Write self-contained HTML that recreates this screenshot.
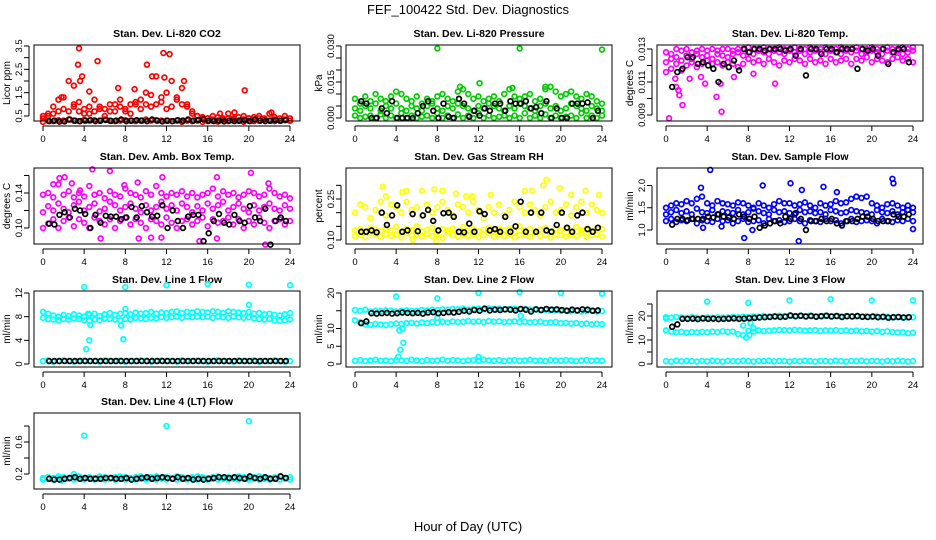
<!DOCTYPE html>
<html><head><meta charset="utf-8"><style>
body{margin:0;background:#fff}
svg{display:block;font-family:"Liberation Sans",sans-serif}
</style></head><body>
<svg id="chart" width="936" height="540" viewBox="0 0 936 540">
<text x="468" y="14" text-anchor="middle" font-size="13">FEF_100422  Std. Dev. Diagnostics</text>
<text x="468" y="531" text-anchor="middle" font-size="13">Hour of Day (UTC)</text>
</svg>
<script>
// ---- data ----
const hoursLabels = ["0","4","8","12","16","20","24"];
const hourTicks = [0,4,8,12,16,20,24];
const colorHours = Array.from({length:49},(_,i)=>i*0.5);
const blackHours = Array.from({length:47},(_,i)=>0.6+i*0.5);

const co2Lo = [0.25,0.3,0.28,0.32,0.3,0.35,0.3,0.28,0.33,0.3,0.32,0.3,0.35,0.3,0.28,0.3,0.32,0.3,0.28,0.3,0.35,0.3,0.32,0.3,0.3,0.28,0.3,0.25,0.3,0.28,0.3,0.25,0.28,0.3,0.26,0.3,0.28,0.3,0.3,0.25,0.3,0.28,0.3,0.35,0.3,0.28,0.3,0.32,0.3];
const co2Mid = [0.4,0.5,0.6,0.7,0.8,0.7,0.9,1.1,0.8,0.6,0.7,0.9,0.8,1.0,0.7,0.9,0.8,1.0,1.1,1.2,1.0,0.9,1.0,1.3,0.8,0.9,1.2,1.0,0.9,0.6,0.5,0.4,0.4,0.35,0.3,0.35,0.4,0.35,0.3,0.35,0.4,0.35,0.4,0.35,0.3,0.35,0.3,0.35,0.3];
const co2Hi = [0.5,0.6,0.9,1.2,1.3,2.0,1.0,0.7,0.6,0.9,1.2,0.8,0.5,0.7,1.0,1.2,0.7,0.6,1.0,0.8,1.5,1.4,2.2,1.1,1.5,2.0,1.3,1.7,1.0,0.7,0.5,0.45,0.4,0.5,0.45,0.4,0.6,0.4,0.45,0.5,0.4,0.45,0.5,0.4,0.6,0.45,0.4,0.5,0.4];
const co2OutX = [3.5,3.4,5.3,3.6,3.8,10.1,11.7,12.3,10.6,11.8,13.7,19.6,1.8,7.3,8.9,4.5,17.2,18.6,22.2,3.0];
const co2OutY = [3.4,2.7,2.85,2.0,2.2,2.7,3.2,3.15,2.2,2.15,2.0,1.6,1.3,1.7,1.65,1.55,0.6,0.65,0.65,1.8];
const co2Black = [0.28,0.3,0.26,0.27,0.35,0.3,0.28,0.3,0.32,0.28,0.3,0.33,0.29,0.3,0.35,0.28,0.3,0.32,0.3,0.28,0.35,0.3,0.27,0.3,0.28,0.32,0.3,0.35,0.3,0.33,0.35,0.3,0.28,0.3,0.27,0.3,0.28,0.3,0.32,0.28,0.35,0.3,0.28,0.3,0.32,0.3,0.33];

const presLo = [0.001,0,0.0005,0.001,0,0.0015,0,0.001,0,0.002,0,0.001,0,0.0005,0.001,0,0.002,0,0.001,0,0.0015,0,0.001,0,0.002,0,0.001,0,0.0005,0.001,0,0.001,0,0.002,0,0.001,0,0.0015,0,0.001,0,0.0005,0.001,0,0.002,0,0.001,0,0.001];
const presMid = [0.004,0.003,0.005,0.004,0.006,0.003,0.005,0.004,0.006,0.004,0.003,0.005,0.004,0.003,0.005,0.006,0.004,0.003,0.005,0.004,0.006,0.005,0.004,0.003,0.005,0.004,0.006,0.005,0.004,0.003,0.005,0.004,0.006,0.005,0.004,0.003,0.005,0.006,0.004,0.005,0.003,0.004,0.006,0.005,0.004,0.003,0.005,0.004,0.003];
const presHi = [0.008,0.006,0.009,0.007,0.01,0.008,0.007,0.009,0.011,0.01,0.008,0.007,0.009,0.006,0.008,0.007,0.009,0.01,0.008,0.007,0.011,0.012,0.01,0.008,0.009,0.007,0.008,0.009,0.007,0.01,0.012,0.009,0.008,0.009,0.01,0.007,0.008,0.012,0.013,0.011,0.009,0.01,0.011,0.009,0.008,0.01,0.009,0.007,0.006];
const presOutX = [8,16,24,12.1,10.2,15.3,18.5];
const presOutY = [0.029,0.029,0.0285,0.0145,0.013,0.0125,0.013];
const presBlack = [0.007,0.006,0,0,0.004,0.002,0.007,0,0,0,0,0.002,0.005,0.007,0.003,0,0.006,0.0005,0,0.008,0.006,0.0005,0.003,0.001,0.004,0.003,0.006,0.006,0.003,0.007,0.006,0.006,0.007,0.004,0.0045,0.002,0.007,0,0.004,0,0,0.006,0.006,0.006,0.0065,0,0.003];

const ltLo = [0.0116,0.0118,0.0121,0.0117,0.012,0.0122,0.0119,0.0121,0.0123,0.0121,0.0122,0.012,0.0122,0.0121,0.0119,0.0121,0.0124,0.0122,0.0123,0.0121,0.0124,0.0122,0.012,0.0123,0.0122,0.0124,0.0123,0.0121,0.0124,0.0122,0.0123,0.0121,0.0124,0.0122,0.0123,0.0124,0.0121,0.0124,0.0123,0.0125,0.0122,0.0124,0.0123,0.0122,0.0124,0.0125,0.0123,0.0124,0.0122];
const ltMid = [0.0122,0.0124,0.0125,0.0123,0.0126,0.0124,0.0127,0.0125,0.0126,0.0124,0.0127,0.0126,0.0125,0.0127,0.0128,0.0126,0.0128,0.0127,0.0129,0.0128,0.0127,0.0129,0.0128,0.0127,0.0129,0.0128,0.0129,0.0127,0.0128,0.0129,0.0128,0.0127,0.0129,0.0128,0.0127,0.0129,0.0128,0.0129,0.0127,0.0128,0.0129,0.0128,0.0127,0.0129,0.0128,0.0129,0.0127,0.0128,0.0129];
const ltHi = [0.0128,0.0127,0.013,0.0129,0.013,0.0128,0.0129,0.013,0.0129,0.013,0.0129,0.013,0.013,0.0129,0.013,0.013,0.0131,0.013,0.013,0.0131,0.013,0.013,0.0131,0.013,0.013,0.0131,0.013,0.013,0.0131,0.013,0.013,0.0131,0.013,0.013,0.0131,0.013,0.013,0.0131,0.013,0.013,0.0131,0.013,0.013,0.0131,0.013,0.013,0.0131,0.013,0.0131];
const ltOutX = [0.3,1.2,1.0,1.6,1.3,2.3,3.4,3.8,4.9,5.3,5.4,6.6,10.6,8.5,0.9];
const ltOutY = [0.0088,0.0105,0.0107,0.0096,0.0102,0.0112,0.0113,0.0109,0.0101,0.0109,0.0092,0.0113,0.0109,0.0115,0.0112];
const ltBlack = [0.0107,0.0116,0.0118,0.0125,0.0125,0.0121,0.0122,0.012,0.0118,0.011,0.0121,0.0119,0.0123,0.0117,0.013,0.0128,0.013,0.013,0.0129,0.013,0.013,0.013,0.0129,0.013,0.0126,0.013,0.0114,0.013,0.013,0.0127,0.013,0.013,0.0128,0.013,0.013,0.013,0.0118,0.013,0.0129,0.013,0.0126,0.013,0.0121,0.0128,0.013,0.013,0.0122];

const abLo = [0.1,0.105,0.11,0.1,0.108,0.112,0.102,0.11,0.106,0.1,0.112,0.108,0.104,0.11,0.1,0.108,0.112,0.104,0.11,0.106,0.1,0.11,0.108,0.104,0.112,0.106,0.1,0.108,0.11,0.104,0.108,0.112,0.102,0.11,0.106,0.108,0.112,0.104,0.11,0.1,0.108,0.104,0.112,0.106,0.1,0.108,0.11,0.104,0.108];
const abMid = [0.118,0.125,0.12,0.128,0.122,0.118,0.126,0.13,0.12,0.124,0.128,0.119,0.122,0.13,0.126,0.12,0.124,0.128,0.122,0.118,0.126,0.12,0.124,0.13,0.122,0.126,0.12,0.128,0.124,0.118,0.125,0.12,0.128,0.122,0.126,0.13,0.12,0.124,0.128,0.122,0.118,0.126,0.12,0.124,0.128,0.122,0.12,0.126,0.122];
const abHi = [0.138,0.14,0.135,0.15,0.138,0.142,0.135,0.14,0.136,0.148,0.138,0.14,0.134,0.142,0.138,0.136,0.145,0.14,0.138,0.135,0.142,0.138,0.148,0.14,0.136,0.14,0.138,0.142,0.136,0.14,0.135,0.138,0.14,0.145,0.136,0.142,0.138,0.14,0.135,0.138,0.142,0.14,0.136,0.138,0.145,0.14,0.136,0.138,0.134];
const abOutX = [1.6,2.1,4.8,6.5,9.2,11.6,16.9,20.2,21.9,1.0,2.8,3.6,7.9,21.6,15.2,5.6,9.3,10.5,11.5,16.9];
const abOutY = [0.157,0.158,0.167,0.165,0.152,0.158,0.158,0.163,0.151,0.15,0.151,0.143,0.149,0.081,0.085,0.088,0.088,0.089,0.089,0.088];
const abBlack = [0.105,0.104,0.115,0.118,0.112,0.122,0.12,0.116,0.1,0.115,0.106,0.114,0.113,0.113,0.11,0.112,0.124,0.112,0.125,0.118,0.113,0.114,0.126,0.1,0.12,0.108,0.1,0.113,0.115,0.115,0.085,0.094,0.108,0.116,0.106,0.104,0.115,0.108,0.106,0.125,0.112,0.108,0.122,0.081,0.108,0.112,0.108];

const rhLo = [0.115,0.12,0.11,0.125,0.118,0.112,0.122,0.115,0.12,0.11,0.125,0.118,0.12,0.112,0.122,0.115,0.12,0.108,0.125,0.118,0.112,0.12,0.115,0.122,0.11,0.118,0.125,0.112,0.12,0.115,0.122,0.11,0.118,0.12,0.112,0.125,0.115,0.12,0.11,0.122,0.118,0.112,0.12,0.115,0.125,0.11,0.118,0.12,0.112];
const rhMid = [0.135,0.14,0.13,0.145,0.138,0.132,0.142,0.136,0.148,0.13,0.14,0.135,0.15,0.132,0.138,0.145,0.13,0.14,0.136,0.142,0.13,0.148,0.135,0.14,0.132,0.138,0.145,0.13,0.14,0.136,0.142,0.13,0.15,0.135,0.14,0.132,0.138,0.145,0.13,0.14,0.136,0.142,0.13,0.148,0.135,0.14,0.132,0.138,0.14];
const rhHi = [0.2,0.23,0.22,0.18,0.21,0.24,0.19,0.23,0.22,0.2,0.24,0.21,0.22,0.19,0.23,0.2,0.22,0.24,0.21,0.19,0.23,0.22,0.2,0.24,0.21,0.18,0.22,0.2,0.23,0.19,0.21,0.24,0.22,0.2,0.23,0.21,0.19,0.22,0.24,0.2,0.21,0.23,0.19,0.22,0.24,0.2,0.23,0.21,0.2];
const rhOutX = [2.7,7.7,18.6,18.3,19.9,4.6,5.0,6.5,8.5,9.8,13.2,16.5,17.2,21.0,22.4,23.7,3.0,10.8,11.4,5.6,7.9];
const rhOutY = [0.295,0.285,0.32,0.3,0.29,0.275,0.28,0.28,0.28,0.27,0.265,0.28,0.28,0.265,0.28,0.265,0.26,0.26,0.26,0.1,0.095];
const rhBlack = [0.13,0.13,0.135,0.128,0.2,0.155,0.19,0.227,0.13,0.135,0.195,0.132,0.19,0.21,0.17,0.135,0.198,0.2,0.185,0.13,0.128,0.16,0.13,0.205,0.195,0.135,0.14,0.13,0.185,0.13,0.15,0.24,0.13,0.2,0.13,0.2,0.135,0.13,0.155,0.2,0.145,0.13,0.19,0.2,0.14,0.13,0.145];

const sfLo = [1.2,1.25,1.18,1.22,1.2,1.25,1.15,1.22,1.2,1.18,1.25,1.2,1.22,1.15,1.2,1.25,1.18,1.2,1.22,1.15,1.25,1.2,1.22,1.18,1.2,1.25,1.2,1.15,1.22,1.2,1.18,1.25,1.2,1.22,1.15,1.2,1.25,1.18,1.2,1.22,1.2,1.15,1.25,1.2,1.18,1.22,1.2,1.25,1.2];
const sfMid = [1.35,1.4,1.45,1.38,1.42,1.35,1.48,1.4,1.38,1.45,1.35,1.42,1.4,1.38,1.45,1.35,1.4,1.48,1.42,1.38,1.35,1.45,1.4,1.42,1.38,1.35,1.45,1.4,1.42,1.38,1.4,1.35,1.45,1.42,1.38,1.4,1.45,1.42,1.4,1.38,1.35,1.45,1.4,1.38,1.42,1.35,1.4,1.45,1.4];
const sfHi = [1.5,1.55,1.6,1.58,1.65,1.6,1.7,1.75,1.6,1.55,1.65,1.6,1.58,1.55,1.62,1.6,1.55,1.5,1.6,1.55,1.5,1.58,1.65,1.6,1.6,1.55,1.58,1.62,1.55,1.5,1.6,1.55,1.58,1.65,1.6,1.62,1.7,1.75,1.72,1.75,1.6,1.55,1.5,1.58,1.6,1.55,1.5,1.55,1.5];
const sfOutX = [4.3,3.4,9.4,12.1,13.2,15.3,16.6,22.0,22.1,7.6,12.9,24.0,3.6,8.4,5.4];
const sfOutY = [2.35,1.95,2.0,2.05,1.9,1.97,1.85,2.15,2.05,0.82,0.75,1.02,1.05,1.0,1.08];
const sfBlack = [1.12,1.25,1.25,1.22,1.25,1.25,1.25,1.3,1.28,1.35,1.3,1.28,1.25,1.35,1.3,1.25,1.3,1.05,1.1,1.15,1.2,1.15,1.3,1.25,1.38,1.25,1.0,1.2,1.2,1.25,1.2,1.25,1.15,1.1,1.2,1.2,1.25,1.3,1.3,1.25,1.2,1.2,1.2,1.35,1.3,1.3,1.35];

const l1Hi = [8.8,8.5,8.2,8.0,8.3,8.1,8.4,8.2,8.0,8.3,8.5,8.1,8.4,8.6,8.3,8.5,8.6,8.4,8.7,8.5,8.6,8.8,8.5,8.7,8.6,8.8,8.9,8.6,8.8,8.7,8.9,8.8,8.7,8.9,8.8,8.6,8.9,8.8,8.7,8.6,8.8,8.5,8.6,8.4,8.5,8.3,8.2,8.4,8.6];
const l1Mid = [7.8,7.6,7.5,7.4,7.6,7.5,7.7,7.6,7.4,7.3,7.5,7.4,7.7,7.6,7.5,7.4,7.6,7.5,7.8,7.7,7.6,7.8,7.7,7.9,7.8,7.9,8.0,7.8,8.0,7.9,8.0,7.9,8.0,7.8,8.0,7.9,7.8,8.0,7.9,7.8,7.9,7.7,7.6,7.5,7.6,7.4,7.3,7.4,7.5];
const l1Lo = [0.5,0.6,0.4,0.5,0.6,0.5,0.4,0.5,0.6,0.5,0.5,0.4,0.6,0.5,0.5,0.6,0.4,0.5,0.5,0.6,0.5,0.4,0.5,0.6,0.5,0.5,0.4,0.6,0.5,0.5,0.6,0.5,0.4,0.5,0.6,0.5,0.5,0.4,0.6,0.5,0.5,0.6,0.4,0.5,0.5,0.6,0.5,0.4,0.5];
const l1OutX = [4,8,12,16,20,24,4.2,4.5,7.8,4.4,7.6,8.0,20.0,4.6];
const l1OutY = [13,13,13.3,13.5,13.4,13.3,2.5,4,4.2,8.5,6.5,9.3,10,6.6];
const l1Black = [0.5,0.5,0.5,0.5,0.5,0.5,0.5,0.5,0.5,0.5,0.5,0.5,0.5,0.5,0.5,0.5,0.5,0.5,0.5,0.5,0.5,0.5,0.5,0.5,0.5,0.5,0.5,0.5,0.5,0.5,0.5,0.5,0.5,0.5,0.5,0.5,0.5,0.5,0.5,0.5,0.5,0.5,0.5,0.5,0.5,0.5,0.5];

const l2Hi = [15.2,15.0,15.3,14.8,15.0,14.9,15.1,15.0,14.8,15.0,15.1,14.9,15.0,15.2,15.1,15.3,15.2,15.4,15.3,15.5,15.4,15.6,15.3,15.5,15.6,15.4,15.7,15.5,15.6,15.4,15.5,15.6,15.4,15.5,15.3,15.4,15.2,15.3,15.1,15.2,15.0,15.1,14.9,15.0,14.8,14.9,15.0,14.8,14.9];
const l2Mid = [12.3,11.8,11.2,11.0,11.3,11.1,11.0,11.2,11.4,11.3,11.5,11.6,11.4,11.7,11.5,11.8,11.6,11.9,11.7,12.0,11.8,11.9,12.1,11.9,12.0,11.8,12.1,11.9,12.0,11.8,11.9,12.0,11.8,11.9,11.7,11.8,11.9,11.6,11.7,11.8,11.5,11.6,11.4,11.5,11.3,11.4,11.2,11.3,11.2];
const l2Lo = [0.9,1.1,0.8,1.0,1.2,0.9,1.0,0.8,1.1,1.0,0.9,1.2,1.0,0.8,1.1,0.9,1.0,1.2,0.9,1.1,1.0,0.8,1.0,1.1,0.9,1.2,1.0,0.9,1.1,0.8,1.0,1.1,0.9,1.0,1.2,0.9,1.0,0.8,1.1,1.0,0.9,1.1,1.0,0.8,1.0,1.1,0.9,1.0,0.9];
const l2OutX = [4,8,12,16,20,24,4.2,4.4,4.7,4.3,4.6,16.1,8,12];
const l2OutY = [19,18.5,20,20.3,20,19.8,2,4,6,9.5,10,13.5,13,2];
const l2Black = [11.5,12,14.3,14.2,14.3,14.4,14.2,14.3,14.5,14.4,14.3,14.4,14.2,14.5,14.6,14.3,14.4,14.6,14.5,14.7,15.0,14.8,15.2,15.0,15.6,15.1,15.3,15.2,15.4,15.3,15.1,15.5,15.3,14.8,15.4,15.2,15.5,15.3,15.4,15.2,15.0,15.3,15.1,15.4,15.3,15.0,15.1];

const l3Hi = [19.5,19.3,19.6,19.4,19.2,19.5,19.3,19.1,19.4,19.2,19.5,19.3,19.4,19.6,19.5,19.7,19.6,19.8,19.7,20.0,19.8,19.9,20.1,20.0,20.2,19.9,20.1,20.0,20.2,19.9,20.0,20.1,19.9,20.0,19.8,20.0,19.9,19.8,19.7,19.9,19.6,19.8,19.5,19.7,19.4,19.5,19.3,19.4,19.5];
const l3Mid = [14.0,13.5,13.2,13.4,13.0,13.3,13.1,13.4,13.2,13.5,13.3,13.6,13.4,13.5,12.5,12.0,13.8,13.5,14.0,13.7,13.9,14.0,14.2,14.1,14.0,14.2,14.1,13.9,14.0,14.1,13.8,14.0,13.9,14.1,13.8,14.0,13.7,13.9,13.6,13.8,13.5,13.7,13.4,13.6,13.3,13.1,13.2,12.8,13.0];
const l3Lo = [1.2,1.0,1.4,1.1,1.3,1.2,1.0,1.3,1.1,1.4,1.2,1.0,1.3,1.2,1.1,1.4,1.2,1.0,1.3,1.2,1.4,1.1,1.3,1.2,1.0,1.3,1.1,1.4,1.2,1.0,1.3,1.2,1.1,1.4,1.2,1.0,1.3,1.2,1.4,1.1,1.3,1.2,1.0,1.3,1.1,1.4,1.2,1.0,1.2];
const l3OutX = [4,8,12,16,20,24,7.8,7.5,8.1,8.5,0,8.2];
const l3OutY = [26,25.5,26.5,27,26.5,26.5,11,16,12,15,19,17];
const l3Black = [15.5,16.5,18.8,18.8,18.9,18.7,19,18.8,18.9,18.7,18.8,18.9,19,18.8,18.9,19.1,19.2,19.4,19.5,19.6,19.8,19.6,19.7,20.2,19.9,20.1,19.8,20,19.7,19.9,20.1,19.8,20,19.6,19.9,19.8,20,19.7,19.6,19.8,19.5,19.7,19.3,19.5,19.6,19.4,19.5];

const l4Hi = [0.15,0.16,0.15,0.17,0.16,0.15,0.16,0.17,0.15,0.16,0.15,0.17,0.16,0.15,0.16,0.17,0.16,0.15,0.16,0.17,0.15,0.16,0.17,0.15,0.16,0.15,0.17,0.16,0.15,0.16,0.17,0.16,0.15,0.16,0.17,0.15,0.16,0.15,0.17,0.16,0.15,0.16,0.17,0.16,0.15,0.16,0.17,0.15,0.16];
const l4Mid = [0.13,0.14,0.13,0.14,0.13,0.14,0.13,0.14,0.13,0.14,0.13,0.14,0.13,0.14,0.13,0.14,0.13,0.14,0.13,0.14,0.13,0.14,0.13,0.14,0.13,0.14,0.13,0.14,0.13,0.14,0.13,0.14,0.13,0.14,0.13,0.14,0.13,0.14,0.13,0.14,0.13,0.14,0.13,0.14,0.13,0.14,0.13,0.14,0.13];
const l4OutX = [4,12,20,3,1.8];
const l4OutY = [0.68,0.8,0.86,0.2,0.12];
const l4Black = [0.14,0.13,0.13,0.14,0.15,0.16,0.14,0.15,0.14,0.14,0.14,0.15,0.15,0.14,0.14,0.15,0.13,0.14,0.15,0.16,0.14,0.15,0.16,0.15,0.14,0.16,0.14,0.15,0.13,0.14,0.13,0.14,0.15,0.16,0.16,0.15,0.16,0.15,0.14,0.17,0.15,0.14,0.16,0.14,0.14,0.17,0.15];

// ---- layout ----
const NS = "http://www.w3.org/2000/svg";
const svg = document.getElementById("chart");
const colX = [34, 346, 657];
const rowY = [45, 168, 291, 413];
const BW = 266, BH = 76;

const panels = [
 {name:"co2",title:"Stan. Dev. Li-820 CO2",yl:"Licor ppm",c:0,r:0,col:"#ff0000",v1:0.5,p1:116,v2:3.5,p2:46,ticks:[0.5,1,1.5,2,2.5,3,3.5],labels:["0.5","","1.5","","2.5","","3.5"],series:[co2Lo,co2Mid,co2Hi],ox:co2OutX,oy:co2OutY,blk:co2Black},
 {name:"pressure",title:"Stan. Dev. Li-820 Pressure",yl:"kPa",c:1,r:0,col:"#00cc00",v1:0,p1:118,v2:0.03,p2:46,ticks:[0,0.005,0.01,0.015,0.02,0.025,0.03],labels:["0.000","","","0.015","","","0.030"],series:[presLo,presMid,presHi],ox:presOutX,oy:presOutY,blk:presBlack},
 {name:"li820-temp",title:"Stan. Dev. Li-820 Temp.",yl:"degrees C",c:2,r:0,col:"#ff00ff",v1:0.009,p1:115,v2:0.013,p2:49,ticks:[0.009,0.01,0.011,0.012,0.013],labels:["0.009","","0.011","","0.013"],series:[ltLo,ltMid,ltHi],ox:ltOutX,oy:ltOutY,blk:ltBlack},
 {name:"amb-box-temp",title:"Stan. Dev. Amb. Box Temp.",yl:"degrees C",c:0,r:1,col:"#ff00ff",v1:0.10,p1:228,v2:0.14,p2:193,ticks:[0.1,0.12,0.14,0.16],labels:["0.10","","0.14",""],series:[abLo,abMid,abHi],ox:abOutX,oy:abOutY,blk:abBlack},
 {name:"gas-stream-rh",title:"Stan. Dev. Gas Stream RH",yl:"percent",c:1,r:1,col:"#ffff00",v1:0.10,p1:240,v2:0.25,p2:199,ticks:[0.1,0.15,0.2,0.25,0.3],labels:["0.10","","","0.25",""],series:[rhLo,rhMid,rhHi],ox:rhOutX,oy:rhOutY,blk:rhBlack},
 {name:"sample-flow",title:"Stan. Dev. Sample Flow",yl:"ml/min",c:2,r:1,col:"#0000ff",v1:1.0,p1:230,v2:2.0,p2:185.5,ticks:[1,1.5,2],labels:["1.0","1.5","2.0"],series:[sfLo,sfMid,sfHi],ox:sfOutX,oy:sfOutY,blk:sfBlack},
 {name:"line1-flow",title:"Stan. Dev. Line 1 Flow",yl:"ml/min",c:0,r:2,col:"#00ffff",v1:0,p1:364,v2:12,p2:293,ticks:[0,4,8,12],labels:["0","4","8","12"],series:[l1Lo,l1Mid,l1Hi],ox:l1OutX,oy:l1OutY,blk:l1Black},
 {name:"line2-flow",title:"Stan. Dev. Line 2 Flow",yl:"ml/min",c:1,r:2,col:"#00ffff",v1:0,p1:364,v2:20,p2:293,ticks:[0,5,10,15,20],labels:["0","5","10","","20"],series:[l2Lo,l2Mid,l2Hi],ox:l2OutX,oy:l2OutY,blk:l2Black},
 {name:"line3-flow",title:"Stan. Dev. Line 3 Flow",yl:"ml/min",c:2,r:2,col:"#00ffff",v1:0,p1:364,v2:20,p2:316,ticks:[0,5,10,15,20,25],labels:["0","","10","","20",""],series:[l3Lo,l3Mid,l3Hi],ox:l3OutX,oy:l3OutY,blk:l3Black},
 {name:"line4-flow",title:"Stan. Dev. Line 4 (LT) Flow",yl:"ml/min",c:0,r:3,col:"#00ffff",v1:0.2,p1:474,v2:0.6,p2:442,ticks:[0.2,0.4,0.6,0.8],labels:["0.2","","0.6",""],series:[l4Mid,l4Hi],ox:l4OutX,oy:l4OutY,blk:l4Black}
];

function mk(tag, attrs, parent){
  const e = document.createElementNS(NS, tag);
  for (const k in attrs) e.setAttribute(k, attrs[k]);
  (parent||svg).appendChild(e);
  return e;
}

panels.forEach(p => {
  const bx = colX[p.c], by = rowY[p.r];
  const xs = h => bx + 9 + h * (BW - 19) / 24;
  const ys = v => p.p1 + (v - p.v1) * (p.p2 - p.p1) / (p.v2 - p.v1);
  const g = mk("g", {});
  
  

  const t = mk("text", {x: bx + BW/2, y: by - 8, "text-anchor":"middle", "font-size":"10.5", "font-weight":"bold"}, g);
  t.textContent = p.title;
  
  

  const yl = mk("text", {x:0, y:0, "text-anchor":"middle", "font-size":"10", transform:`translate(${bx-24},${by+BH/2}) rotate(-90)`}, g);
  yl.textContent = p.yl;
  
  

  const pts = mk("g", {fill:"none", "stroke-width":"1.7"}, g);
  
  
  p.series.forEach(arr => {
    arr.forEach((v, i) => {
      const c = mk("circle", {cx: xs(colorHours[i]), cy: ys(v), r: 2.4, stroke: p.col}, pts);
      
      
    });
  });
  p.ox.forEach((h, i) => {
    const c = mk("circle", {cx: xs(h), cy: ys(p.oy[i]), r: 2.4, stroke: p.col}, pts);
    
    
  });
  p.blk.forEach((v, i) => {
    const c = mk("circle", {cx: xs(blackHours[i]), cy: ys(v), r: 2.4, stroke: "#000"}, pts);
    
    
  });

  const box = mk("rect", {x: bx, y: by, width: BW, height: BH, fill:"none", stroke:"#000", "stroke-width":"1"}, g);
  
  

  const xa = mk("g", {}, g);
  
  
  mk("line", {x1: xs(0), x2: xs(24), y1: by+BH+5, y2: by+BH+5, stroke:"#000"}, xa);
  hourTicks.forEach((h, i) => {
    mk("line", {x1: xs(h), x2: xs(h), y1: by+BH+5, y2: by+BH+10, stroke:"#000"}, xa);
    const tl = mk("text", {x: xs(h), y: by+BH+21, "text-anchor":"middle", "font-size":"9.5"}, xa);
    tl.textContent = hoursLabels[i];
  });

  const ya = mk("g", {}, g);
  
  
  const y0 = ys(p.ticks[0]), y1 = ys(p.ticks[p.ticks.length-1]);
  mk("line", {x1: bx-5, x2: bx-5, y1: y0, y2: y1, stroke:"#000"}, ya);
  p.ticks.forEach((v, i) => {
    const yy = ys(v);
    mk("line", {x1: bx-10, x2: bx-5, y1: yy, y2: yy, stroke:"#000"}, ya);
    if (p.labels[i]) {
      const tl = mk("text", {x:0, y:0, "text-anchor":"middle", "font-size":"9.5", transform:`translate(${bx-12},${yy}) rotate(-90)`}, ya);
      tl.textContent = p.labels[i];
    }
  });
});
</script>
</body></html>
